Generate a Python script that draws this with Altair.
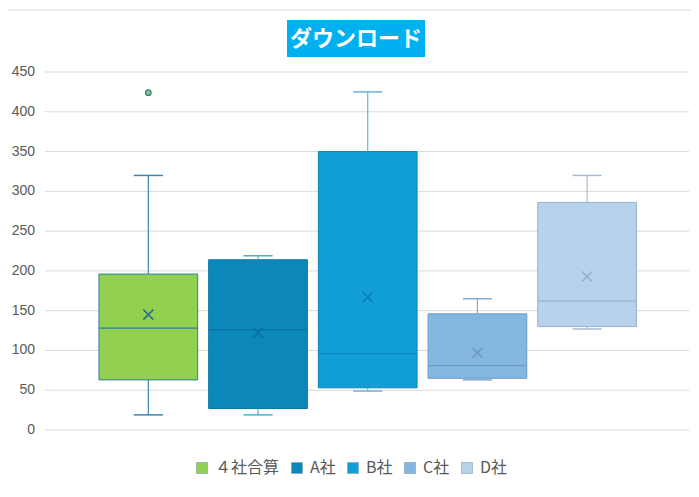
import altair as alt
import pandas as pd

# ---- data ----
series = ["４社合算", "A社", "B社", "C社", "D社"]
low = [19, 19, 49, 63, 127]
q1 = [63, 27, 53, 65, 130]
median = [128, 126, 96, 81, 162]
q3 = [196, 214, 350, 146, 286]
high = [320, 219, 425, 165, 320]
mean = [145, 122, 167, 97, 193]
outlier_series = ["４社合算"]
outlier_value = [424]
y_ticks = [0, 50, 100, 150, 200, 250, 300, 350, 400, 450]

# ---- styles ----
box_fill = ["#92D050", "#0C87BA", "#0F9ED5", "#84B7DF", "#B7D2EB"]
box_line = ["#2E7FA3", "#0A77A6", "#0C86B8", "#6E9BC3", "#97B3D0"]
whisker_col = ["#3A87A8", "#5FA6C6", "#6DB3D3", "#87ACCF", "#A5BDD4"]
mean_col = ["#2B6E8E", "#0A6F9C", "#0D7FAE", "#7397BA", "#94AFC8"]

df = pd.DataFrame({
    "series": series, "pos": list(range(len(series))),
    "low": low, "q1": q1, "median": median, "q3": q3, "high": high, "mean": mean,
    "fill": box_fill, "line": box_line, "wcol": whisker_col, "mcol": mean_col,
})
odf = pd.DataFrame({"series": outlier_series, "value": outlier_value})
odf["pos"] = odf["series"].map({s: i for i, s in enumerate(series)})
tdf = pd.DataFrame({"tick": y_ticks})

W, H = 644, 358
xs = alt.Scale(domain=[-0.942, 4.929], nice=False, zero=False)
ys = alt.Scale(domain=[0, 450], nice=False)
FONT = "Noto Sans CJK JP"

# y grid and labels drawn through the y scale
grid = alt.Chart(tdf).mark_rule(color="#D9D9D9", strokeWidth=1).encode(
    x=alt.value(0), x2=alt.value(W),
    y=alt.Y("tick:Q", scale=ys, axis=None),
)
ylabels = alt.Chart(tdf).mark_text(
    font="Liberation Sans", fontSize=14, color="#595959", align="right", baseline="middle"
).encode(
    x=alt.value(-10), y=alt.Y("tick:Q", scale=ys, axis=None), text="tick:Q",
)

base = alt.Chart(df)

boxes = base.mark_rect(strokeWidth=1).transform_calculate(
    x1="datum.pos - 0.45", x2="datum.pos + 0.45"
).encode(
    x=alt.X("x1:Q", scale=xs, axis=None),
    x2="x2:Q",
    y=alt.Y("q1:Q", scale=ys, axis=None),
    y2="q3:Q",
    fill=alt.Fill("series:N", scale=alt.Scale(domain=series, range=box_fill),
                  sort=series,
                  legend=alt.Legend(title=None, orient="none", direction="horizontal",
                                    legendX=149, legendY=388, symbolType="square",
                                    symbolSize=121, symbolStrokeWidth=0.6,
                                    symbolStrokeColor="#7F9FB0",
                                    labelFont=FONT, labelFontSize=16, labelColor="#595959",
                                    labelOffset=5, columnPadding=9)),
    stroke=alt.Stroke("line:N", scale=None),
)

med = base.mark_rule(strokeWidth=1.3).transform_calculate(
    x1="datum.pos - 0.45", x2="datum.pos + 0.45"
).encode(
    x=alt.X("x1:Q", scale=xs, axis=None), x2="x2:Q", y=alt.Y("median:Q", scale=ys, axis=None),
    color=alt.Color("line:N", scale=None),
)

wh_up = base.mark_rule(strokeWidth=1.2).encode(
    x=alt.X("pos:Q", scale=xs, axis=None), y=alt.Y("q3:Q", scale=ys, axis=None), y2="high:Q",
    color=alt.Color("wcol:N", scale=None),
)
wh_dn = base.mark_rule(strokeWidth=1.2).encode(
    x=alt.X("pos:Q", scale=xs, axis=None), y=alt.Y("low:Q", scale=ys, axis=None), y2="q1:Q",
    color=alt.Color("wcol:N", scale=None),
)
cap_hi = base.mark_rule(strokeWidth=1.5).transform_calculate(
    c1="datum.pos - 0.133", c2="datum.pos + 0.133"
).encode(
    x=alt.X("c1:Q", scale=xs, axis=None), x2="c2:Q", y=alt.Y("high:Q", scale=ys, axis=None),
    color=alt.Color("wcol:N", scale=None),
)
cap_lo = base.mark_rule(strokeWidth=1.5).transform_calculate(
    c1="datum.pos - 0.133", c2="datum.pos + 0.133"
).encode(
    x=alt.X("c1:Q", scale=xs, axis=None), x2="c2:Q", y=alt.Y("low:Q", scale=ys, axis=None),
    color=alt.Color("wcol:N", scale=None),
)
mean_pts = base.mark_point(shape="M-1,-1L1,1M-1,1L1,-1", size=100, filled=False,
                           strokeWidth=1.5, opacity=1).encode(
    x=alt.X("pos:Q", scale=xs, axis=None), y=alt.Y("mean:Q", scale=ys, axis=None),
    stroke=alt.Stroke("mcol:N", scale=None),
)
outl = alt.Chart(odf).mark_point(shape="circle", size=30, filled=True, fill="#92D050",
                                 stroke="#2E7FA3", strokeWidth=1.3, opacity=1).encode(
    x=alt.X("pos:Q", scale=xs, axis=None), y=alt.Y("value:Q", scale=ys, axis=None),
)

# decorative title with a filled background
title_bg = alt.Chart(pd.DataFrame({"t": ["ダウンロード"]})).mark_rect(
    color="#00B0F0").encode(
    x=alt.value(242), x2=alt.value(380), y=alt.value(-52), y2=alt.value(-15))
title_tx = alt.Chart(pd.DataFrame({"t": ["ダウンロード"]})).mark_text(
    font=FONT, fontSize=22, fontWeight="bold", color="white",
    align="center", baseline="middle").encode(
    x=alt.value(311), y=alt.value(-33), text="t:N")
top_line = alt.Chart(pd.DataFrame({"t": [0]})).mark_rule(color="#D9D9D9").encode(
    x=alt.value(-37), x2=alt.value(646), y=alt.value(-62))

chart = alt.layer(
    grid, ylabels, boxes, med, wh_up, wh_dn, cap_hi, cap_lo, mean_pts, outl,
    title_bg, title_tx, top_line
).properties(
    width=W, height=H, background="white",
    autosize=alt.AutoSizeParams(type="none"),
    padding={"left": 37, "top": 64, "right": 2, "bottom": 51},
).configure_view(stroke=None)

chart.save("out.html", embed_options={"renderer": "svg", "actions": False})
